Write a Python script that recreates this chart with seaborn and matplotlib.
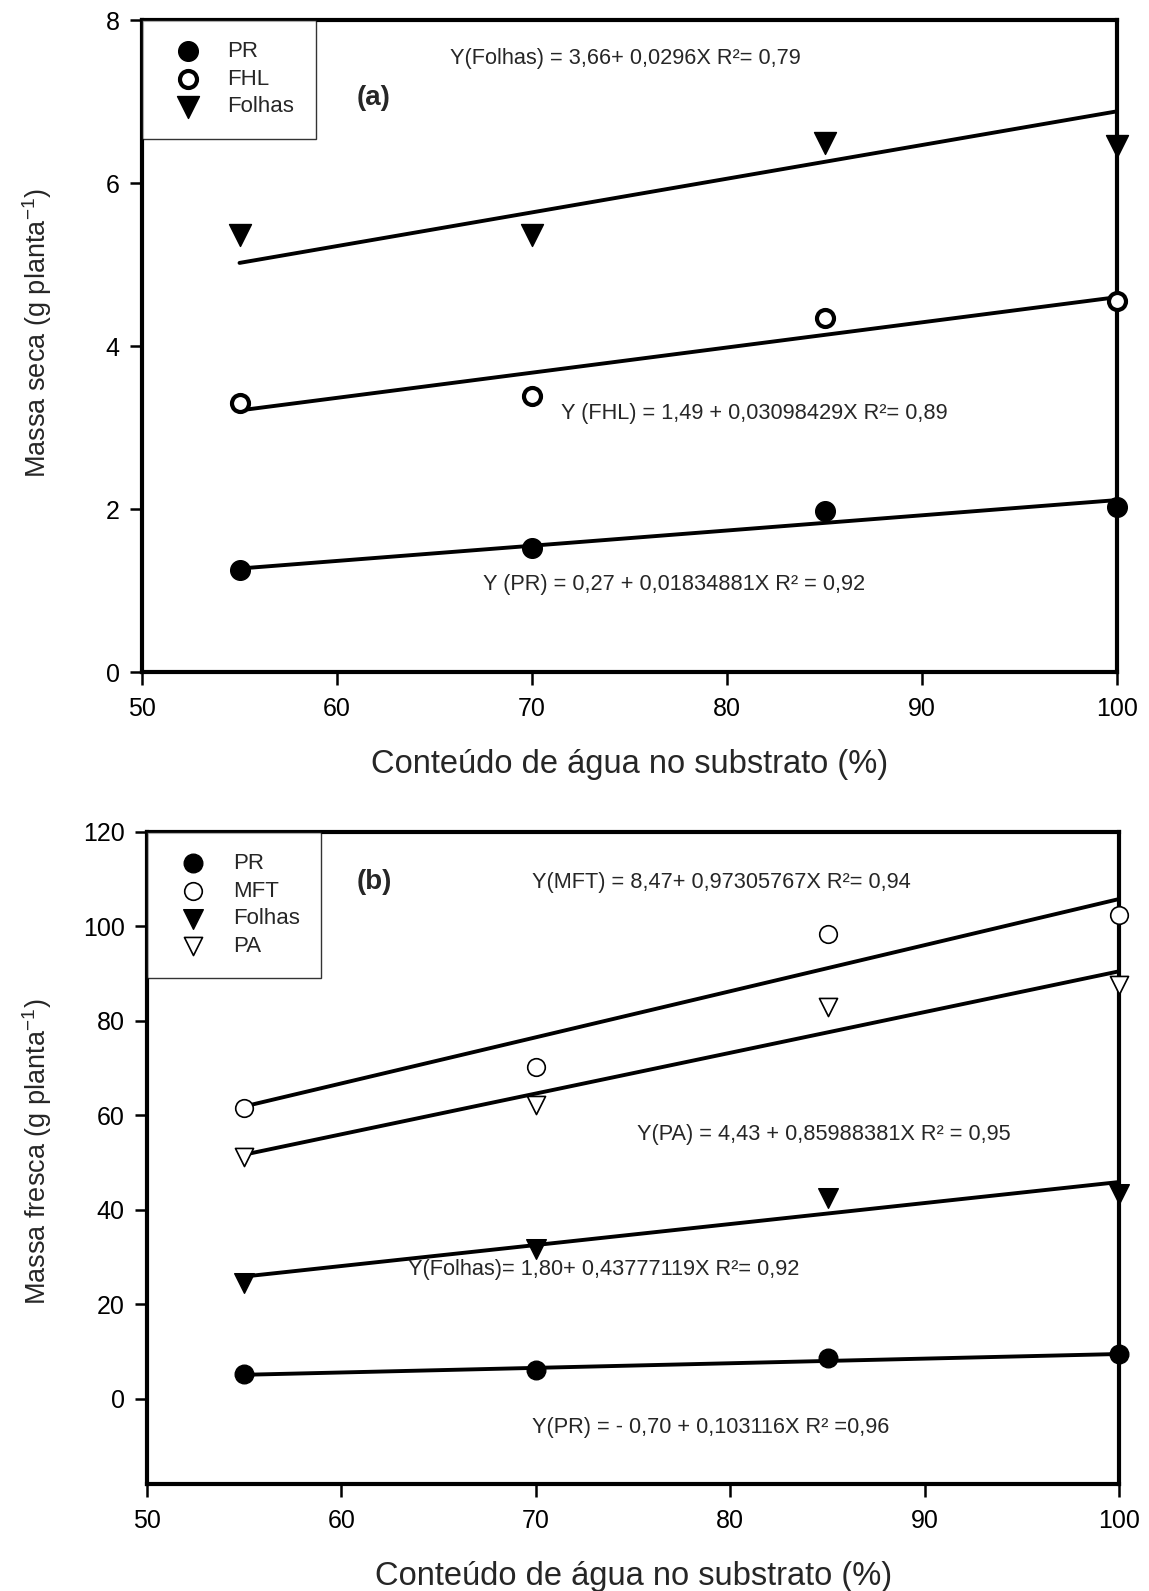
import numpy as np
import pandas as pd
import matplotlib
matplotlib.use("Agg")
import matplotlib.pyplot as plt
import seaborn as sns

# valores
agua = [55, 70, 85, 100]
agua_fit = [55, 100]

# (a) massa seca
seca_pr = [1.25, 1.52, 1.98, 2.02]
seca_fhl = [3.30, 3.39, 4.34, 4.55]
seca_folhas = [5.36, 5.36, 6.49, 6.45]
fit_seca_pr = [1.27, 2.11]
fit_seca_fhl = [3.21, 4.60]
fit_seca_folhas = [5.02, 6.88]

# (b) massa fresca
fresca_pr = [5.2, 6.2, 8.6, 9.5]
fresca_mft = [61.5, 70.3, 98.3, 102.4]
fresca_folhas = [24.6, 31.7, 42.5, 43.3]
fresca_pa = [51.1, 62.1, 83.0, 87.5]
fit_fresca_pr = [5.1, 9.5]
fit_fresca_mft = [61.9, 105.8]
fit_fresca_folhas = [25.9, 45.9]
fit_fresca_pa = [51.7, 90.5]

sns.set_theme(style="white")
plt.rcParams['font.family'] = ['Liberation Sans', 'DejaVu Sans']
plt.rcParams['mathtext.default'] = 'regular'

fig = plt.figure(figsize=(11.49, 15.91), dpi=100)
ax1 = fig.add_axes([0.1236, 0.5776, 0.8486, 0.4098])
ax2 = fig.add_axes([0.128, 0.0673, 0.846, 0.4098])


def serie(ax, y, marker, label, filled, s, lw):
    fc = 'black' if filled else 'white'
    sns.scatterplot(x=agua, y=y, marker=marker, s=s, color=fc, edgecolor='black',
                    linewidth=lw, label=label, ax=ax, clip_on=False, zorder=5)


def reta(ax, y):
    sns.lineplot(x=agua_fit, y=y, color='black', linewidth=2.8, ax=ax,
                 legend=False, zorder=3)


def formatar(ax, ylim, yticks, ylabel, ylab_x, ylab_y):
    ax.set_xlim(50, 100)
    ax.set_ylim(*ylim)
    ax.set_xticks([50, 60, 70, 80, 90, 100])
    ax.set_yticks(yticks)
    for sp in ax.spines.values():
        sp.set_visible(True)
        sp.set_color('black')
        sp.set_linewidth(3.0)
    ax.tick_params(axis='both', direction='out', length=9, width=1.8,
                   labelsize=18, colors='black', bottom=True, left=True)
    ax.tick_params(axis='x', pad=9)
    ax.tick_params(axis='y', pad=7)
    ax.set_xlabel('Conteúdo de água no substrato (%)', fontsize=23.5, labelpad=20)
    ax.set_ylabel(ylabel, fontsize=19.5)
    ax.yaxis.set_label_coords(ylab_x, ylab_y)
    leg = ax.legend(loc='upper left', fontsize=16, frameon=True, fancybox=False,
                    borderaxespad=0, borderpad=0.95, handletextpad=0.7,
                    labelspacing=0.3, handlelength=2.2, markerscale=1.0)
    leg.get_frame().set_edgecolor('black')
    leg.get_frame().set_linewidth(1.0)
    leg.set_zorder(6)


# painel (a)
serie(ax1, seca_pr, 'o', 'PR', True, 200, 1)
serie(ax1, seca_fhl, 'o', 'FHL', False, 150, 3)
serie(ax1, seca_folhas, 'v', 'Folhas', True, 250, 1)
reta(ax1, fit_seca_pr)
reta(ax1, fit_seca_fhl)
reta(ax1, fit_seca_folhas)
formatar(ax1, (0, 8), [0, 2, 4, 6, 8], 'Massa seca (g planta$^{-1}$)', -0.09, 0.52)
ax1.text(65.8, 7.53, 'Y(Folhas) = 3,66+ 0,0296X R²= 0,79', fontsize=15.7, va='center')
ax1.text(61.0, 7.04, '(a)', fontsize=20, fontweight='bold', va='center')
ax1.text(71.5, 3.17, 'Y (FHL) = 1,49 + 0,03098429X R²= 0,89', fontsize=15.7, va='center')
ax1.text(67.5, 1.07, 'Y (PR) = 0,27 + 0,01834881X R² = 0,92', fontsize=15.7, va='center')

# painel (b)
serie(ax2, fresca_pr, 'o', 'PR', True, 180, 1)
serie(ax2, fresca_mft, 'o', 'MFT', False, 160, 1.2)
serie(ax2, fresca_folhas, 'v', 'Folhas', True, 200, 1)
serie(ax2, fresca_pa, 'v', 'PA', False, 170, 1.2)
reta(ax2, fit_fresca_pr)
reta(ax2, fit_fresca_mft)
reta(ax2, fit_fresca_folhas)
reta(ax2, fit_fresca_pa)
formatar(ax2, (-18, 120), [0, 20, 40, 60, 80, 100, 120],
         'Massa fresca (g planta$^{-1}$)', -0.096, 0.51)
ax2.text(60.8, 109.3, '(b)', fontsize=20, fontweight='bold', va='center')
ax2.text(69.8, 109.3, 'Y(MFT) = 8,47+ 0,97305767X R²= 0,94', fontsize=15.7, va='center')
ax2.text(75.2, 56.0, 'Y(PA) = 4,43 + 0,85988381X R² = 0,95', fontsize=15.7, va='center')
ax2.text(63.4, 27.4, 'Y(Folhas)= 1,80+ 0,43777119X R²= 0,92', fontsize=15.7, va='center')
ax2.text(69.8, -6.0, 'Y(PR) = - 0,70 + 0,103116X R² =0,96', fontsize=15.7, va='center')

fig.savefig('out.png', dpi=100)
